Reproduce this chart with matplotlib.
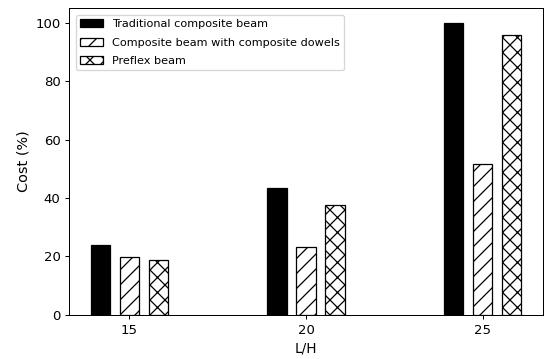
import numpy as np
import matplotlib.pyplot as plt

ratios = [15, 20, 25]
traditional = [23.8, 43.5, 100.0]
dowels = [19.8, 23.1, 51.7]
preflex = [18.9, 37.7, 95.6]

labels = ["Traditional composite beam",
          "Composite beam with composite dowels",
          "Preflex beam"]

# original looks like a 6x4 inch figure rendered at 72 dpi and scaled up
dpi = 545 / 6.0
fig = plt.figure(figsize=(545 / dpi, 359 / dpi), dpi=dpi)
ax = fig.add_axes([0.127, 0.1226, 0.869, 0.8554])

x = np.array(ratios, dtype=float)
w = 0.55
off = 0.82
ax.bar(x - off, traditional, w, color="black", edgecolor="black", label=labels[0])
ax.bar(x, dowels, w, color="white", edgecolor="black", hatch="//", label=labels[1])
ax.bar(x + off, preflex, w, color="white", edgecolor="black", hatch="xx", label=labels[2])

ax.set_xticks(ratios)
ax.set_xticklabels([str(r) for r in ratios])
ax.set_ylim(0, 105)
ax.set_yticks([0, 20, 40, 60, 80, 100])
ax.tick_params(labelsize=10.5)
ax.set_xlabel("L/H", fontsize=10.8)
ax.set_ylabel("Cost (%)", fontsize=11.5)
ax.legend(loc="upper left", fontsize=8.9, labelspacing=0.75, borderaxespad=0.6)

fig.savefig("out.png", dpi=dpi)
